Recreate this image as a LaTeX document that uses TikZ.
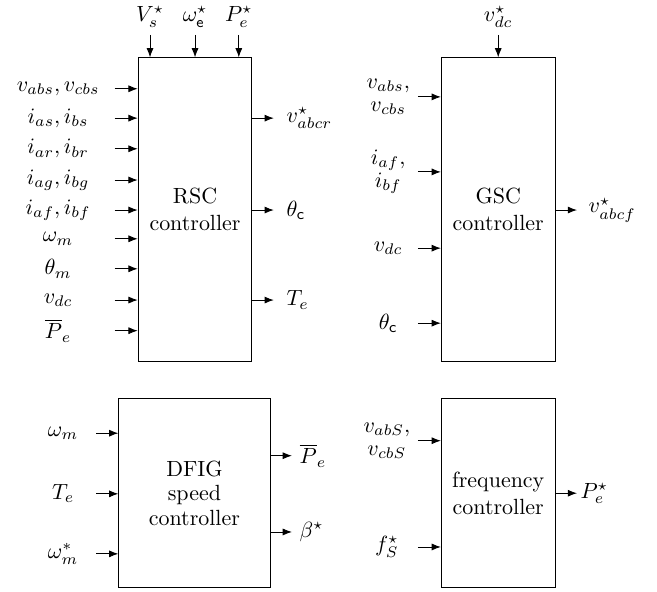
\documentclass[tikz,border=0pt]{standalone}
\usepackage{amsmath}
\usepackage{amssymb}
\usetikzlibrary{arrows.meta, positioning, calc}

\begin{document}
\begin{tikzpicture}[
  ctrl/.style={rectangle, draw, align=center, minimum width=1.82cm,
               minimum height=4.85cm},
  lowctrl/.style={ctrl, minimum height=3.02cm},
  inlbl/.style={align=center},
  toplbl/.style={anchor=south},
  outlbl/.style={anchor=west},
  arr/.style={-{Latex[length=4.2pt, width=3.2pt]}}
]
\useasboundingbox (0,0) rectangle (10.51,9.47);

%% ---- RSC controller ----
\node[ctrl] (rsc) at (3.12, 6.12) {RSC\\controller};

\node[toplbl] (vs)  at (2.40, 8.91) {$V_s^\star$};
\node[toplbl] (we)  at (3.12, 8.91) {$\omega_{\mathsf{e}}^\star$};
\node[toplbl] (pe)  at (3.82, 8.91) {$P_e^\star$};

\node[inlbl] (vabs) at (0.93, 8.05) {$v_{abs}, v_{cbs}$};
\node[inlbl] (ias)  at (0.93, 7.58) {$i_{as}, i_{bs}$};
\node[inlbl] (iar)  at (0.93, 7.09) {$i_{ar}, i_{br}$};
\node[inlbl] (iag)  at (0.93, 6.59) {$i_{ag}, i_{bg}$};
\node[inlbl] (iaf)  at (0.93, 6.11) {$i_{af}, i_{bf}$};
\node[inlbl] (wm)   at (0.93, 5.65) {$\omega_m$};
\node[inlbl] (thm)  at (0.93, 5.17) {$\theta_m$};
\node[inlbl] (vdc)  at (0.93, 4.67) {$v_{dc}$};
\node[inlbl] (pbar) at (0.93, 4.18) {$\overline{P}_e$};

\node[outlbl, outer sep=2.5pt] (vabcr) at (4.38, 7.58) {$v_{abcr}^\star$};
\node[outlbl, outer sep=2.5pt] (thc)   at (4.38, 6.11) {$\theta_{\mathsf{c}}$};
\node[outlbl, outer sep=2.5pt] (te)    at (4.38, 4.67) {$T_e$};

%% ---- GSC controller ----
\node[ctrl] (gsc) at (7.97, 6.12) {GSC\\controller};

\node[toplbl] (vdcs) at (7.97, 8.91) {$v_{dc}^\star$};

\node[inlbl] (gvabs) at (6.21, 7.92) {$v_{abs},$\\[-1.5pt]$v_{cbs}$};
\node[inlbl] (giaf)  at (6.21, 6.72) {$i_{af},$\\[-1.5pt]$i_{bf}$};
\node[inlbl] (gvdc)  at (6.21, 5.50) {$v_{dc}$};
\node[inlbl] (gthc)  at (6.21, 4.30) {$\theta_{\mathsf{c}}$};

\node[outlbl, outer sep=2pt] (vabcf) at (9.23, 6.11) {$v_{abcf}^\star$};

%% ---- DFIG speed controller ----
\node[lowctrl, minimum width=2.42cm] (dfig) at (3.11, 1.58) {DFIG\\[-1pt]speed\\[-1pt]controller};

\node[inlbl] (dwm)  at (1.01, 2.54) {$\omega_m$};
\node[inlbl] (dte)  at (1.01, 1.57) {$T_e$};
\node[inlbl] (dwms) at (1.01, 0.61) {$\omega_m^*$};

\node[outlbl] (dpbar) at (4.67, 2.18) {$\overline{P}_e$};
\node[outlbl] (beta)  at (4.67, 0.96) {$\beta^\star$};

%% ---- frequency controller ----
\node[lowctrl] (freq) at (7.97, 1.58) {frequency\\controller};

\node[inlbl] (fvabs) at (6.19, 2.42) {$v_{abS},$\\[-1.5pt]$v_{cbS}$};
\node[inlbl] (fs)    at (6.19, 0.72) {$f_S^\star$};

\node[outlbl, inner sep=1.5pt] (fpe) at (9.23, 1.58) {$P_e^\star$};

%% ---- Arrows: top inputs ----
\draw[arr] (vs.south)   -- (vs.south |- rsc.north);
\draw[arr] (we.south)   -- (we.south |- rsc.north);
\draw[arr] (pe.south)   -- (pe.south |- rsc.north);
\draw[arr] (vdcs.south) -- (vdcs.south |- gsc.north);

%% ---- Arrows: RSC inputs / outputs ----
\draw[arr] ($(rsc.west |- vabs)+(-0.37,0)$) -- (rsc.west |- vabs);
\draw[arr] ($(rsc.west |- ias)+(-0.37,0)$)  -- (rsc.west |- ias);
\draw[arr] ($(rsc.west |- iar)+(-0.37,0)$)  -- (rsc.west |- iar);
\draw[arr] ($(rsc.west |- iag)+(-0.37,0)$)  -- (rsc.west |- iag);
\draw[arr] ($(rsc.west |- iaf)+(-0.37,0)$)  -- (rsc.west |- iaf);
\draw[arr] ($(rsc.west |- wm)+(-0.37,0)$)   -- (rsc.west |- wm);
\draw[arr] ($(rsc.west |- thm)+(-0.37,0)$)  -- (rsc.west |- thm);
\draw[arr] ($(rsc.west |- vdc)+(-0.37,0)$)  -- (rsc.west |- vdc);
\draw[arr] ($(rsc.west |- pbar)+(-0.37,0)$) -- (rsc.west |- pbar);

\draw[arr] (rsc.east |- vabcr) -- (vabcr.west);
\draw[arr] (rsc.east |- thc)   -- (thc.west);
\draw[arr] (rsc.east |- te)    -- (te.west);

%% ---- Arrows: GSC inputs / output ----
\draw[arr] ($(gsc.west |- gvabs)+(-0.37,0)$) -- (gsc.west |- gvabs);
\draw[arr] ($(gsc.west |- giaf)+(-0.37,0)$)  -- (gsc.west |- giaf);
\draw[arr] ($(gsc.west |- gvdc)+(-0.37,0)$)  -- (gsc.west |- gvdc);
\draw[arr] ($(gsc.west |- gthc)+(-0.37,0)$)  -- (gsc.west |- gthc);

\draw[arr] (gsc.east |- vabcf) -- (vabcf.west);

%% ---- Arrows: DFIG speed controller ----
\draw[arr] ($(dfig.west |- dwm)+(-0.35,0)$)  -- (dfig.west |- dwm);
\draw[arr] ($(dfig.west |- dte)+(-0.35,0)$)  -- (dfig.west |- dte);
\draw[arr] ($(dfig.west |- dwms)+(-0.35,0)$) -- (dfig.west |- dwms);

\draw[arr] (dfig.east |- dpbar) -- (dpbar.west);
\draw[arr] (dfig.east |- beta)  -- (beta.west);

%% ---- Arrows: frequency controller ----
\draw[arr] ($(freq.west |- fvabs)+(-0.37,0)$) -- (freq.west |- fvabs);
\draw[arr] ($(freq.west |- fs)+(-0.37,0)$)    -- (freq.west |- fs);

\draw[arr] (freq.east |- fpe) -- (fpe.west);

\end{tikzpicture}
\end{document}
